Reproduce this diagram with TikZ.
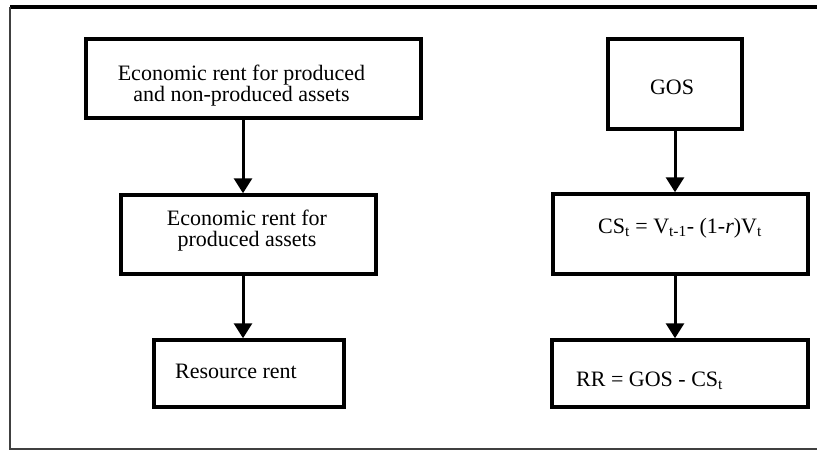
\documentclass[tikz,border=0pt]{standalone}
\usepackage{fontspec}
\setmainfont{Liberation Serif}
\usetikzlibrary{arrows.meta}
\tikzset{
  box/.style={draw, line width=3.5pt, rectangle, inner sep=0pt},
  lbl/.style={inner sep=0pt, font=\fontsize{22}{21.5}\selectfont, align=center},
  arr/.style={line width=3pt, -{Triangle[width=18pt,length=15pt]}},
  frame/.style={line width=2.5pt}
}
\begin{document}
\begin{tikzpicture}[x=1pt,y=-1pt]
\useasboundingbox (0,0) rectangle (817,451);
% outer frame (open on the right)
\draw[frame, line width=3.2pt] (817,7) -- (10,7);
\draw[frame, color=black!75] (10,7) -- (10,449) -- (817,449);
% left column
\node[box, minimum width=335pt, minimum height=79pt] (b1) at (253.5,78.5) {};
\node[box, minimum width=255pt, minimum height=79pt] (b2) at (248.5,234.5) {};
\node[box, minimum width=190pt, minimum height=67pt] (b3) at (249,373.5) {};
\node[lbl] (t1) at (241.5,85.6) {Economic rent for produced\\and non-produced assets};
\node[lbl] (t2) at (247,230.6) {Economic rent for\\produced assets};
\node[lbl, anchor=base west] (t3) at (175,378) {Resource rent};
% right column
\node[box, minimum width=134pt, minimum height=90pt] (g) at (675,84) {};
\node[box, minimum width=255pt, minimum height=80pt] (cs) at (680.5,234) {};
\node[box, minimum width=256pt, minimum height=67pt] (rr) at (680,373.5) {};
\node[lbl, anchor=base] (tg) at (672,94) {GOS};
\node[lbl, anchor=base west] (tcs) at (598,233) {CS\textsubscript{t} = V\textsubscript{t-1}- (1-\textit{r})V\textsubscript{t}};
\node[lbl, anchor=base west] (trr) at (576,386) {RR = GOS - CS\textsubscript{t}};
% connectors
\coordinate (axl) at (243,0);
\coordinate (axr) at (675,0);
\draw[arr] (b1.south -| axl) -- (b2.north -| axl);
\draw[arr] (b2.south -| axl) -- (b3.north -| axl);
\draw[arr] (g.south -| axr) -- (cs.north -| axr);
\draw[arr] (cs.south -| axr) -- (rr.north -| axr);
\end{tikzpicture}
\end{document}
